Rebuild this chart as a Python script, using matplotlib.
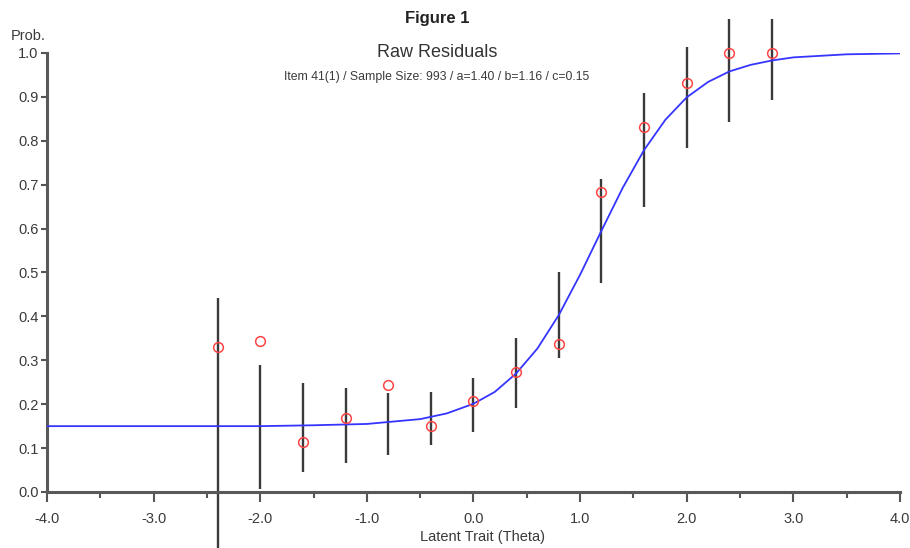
import matplotlib
matplotlib.use("Agg")
import matplotlib.pyplot as plt
from matplotlib.ticker import MultipleLocator

plt.rcParams['font.family'] = ['Liberation Sans', 'DejaVu Sans']

# model curve
theta_curve = [-4.0, -3.0, -2.0, -1.5, -1.0, -0.5, -0.25, 0.0, 0.2, 0.4, 0.6, 0.8, 1.0,
               1.2, 1.4, 1.6, 1.8, 2.0, 2.2, 2.4, 2.6, 2.8, 3.0, 3.5, 4.0]
p_curve = [0.150, 0.150, 0.150, 0.152, 0.155, 0.166, 0.179, 0.201, 0.228, 0.270, 0.327,
           0.403, 0.495, 0.595, 0.693, 0.779, 0.848, 0.899, 0.934, 0.958, 0.973, 0.983,
           0.990, 0.997, 0.999]

# observed proportions
theta_obs = [-2.4, -2.0, -1.6, -1.2, -0.8, -0.4, 0.0, 0.4, 0.8, 1.2, 1.6, 2.0, 2.4, 2.8]
p_obs = [0.331, 0.344, 0.115, 0.169, 0.244, 0.150, 0.208, 0.273, 0.337, 0.684, 0.831,
         0.931, 1.0, 1.0]

# error bar ends
err_low = [-0.16, 0.007, 0.046, 0.067, 0.084, 0.107, 0.136, 0.191, 0.305, 0.477, 0.650,
           0.783, 0.842, 0.894]
err_high = [0.442, 0.289, 0.248, 0.236, 0.225, 0.228, 0.259, 0.351, 0.502, 0.714, 0.910,
            1.014, 1.077, 1.077]

fig = plt.figure(figsize=(9.1, 5.48), dpi=100)
ax = fig.add_axes([0.0516, 0.1022, 0.9374, 0.8011])

ax.vlines(theta_obs, err_low, err_high, color='#3a3a3a', lw=1.7, clip_on=False, zorder=2)
ax.plot(theta_curve, p_curve, color='#3535ff', lw=1.3, zorder=3)
ax.plot(theta_obs, p_obs, 'o', mfc='none', mec='#ff4444', mew=1.1, ms=7,
        clip_on=False, zorder=4)

ax.set_xlim(-4, 4)
ax.set_ylim(0, 1)
ax.xaxis.set_major_locator(MultipleLocator(1.0))
ax.xaxis.set_minor_locator(MultipleLocator(0.5))
ax.yaxis.set_major_locator(MultipleLocator(0.1))
ax.xaxis.set_major_formatter(lambda v, pos: f"{v:.1f}")
ax.yaxis.set_major_formatter(lambda v, pos: f"{v:.1f}")

for s in ['top', 'right']:
    ax.spines[s].set_visible(False)
for s in ['left', 'bottom']:
    ax.spines[s].set_color('#595959')
    ax.spines[s].set_linewidth(2.2)

ax.tick_params(axis='both', which='both', colors='#555555', labelcolor='#3a3a3a',
               labelsize=10.5, width=1.5)
ax.tick_params(axis='x', which='major', length=7, pad=7.5)
ax.tick_params(axis='x', which='minor', length=4)
ax.tick_params(axis='y', length=4, pad=2)

fig.text(0.480, 0.967, 'Figure 1', ha='center', va='center', fontsize=12,
         fontweight='bold', color='#222222')
fig.text(0.480, 0.905, 'Raw Residuals', ha='center', va='center', fontsize=13,
         color='#333333')
fig.text(0.480, 0.859, 'Item 41(1) / Sample Size: 993 / a=1.40 / b=1.16 / c=0.15',
         ha='center', va='center', fontsize=8.8, color='#3a3a3a')
fig.text(0.031, 0.934, 'Prob.', ha='center', va='center', fontsize=10.5, color='#3a3a3a')
fig.text(0.530, 0.020, 'Latent Trait (Theta)', ha='center', va='center', fontsize=10.5,
         color='#3a3a3a')

fig.savefig('out.png', dpi=100)
